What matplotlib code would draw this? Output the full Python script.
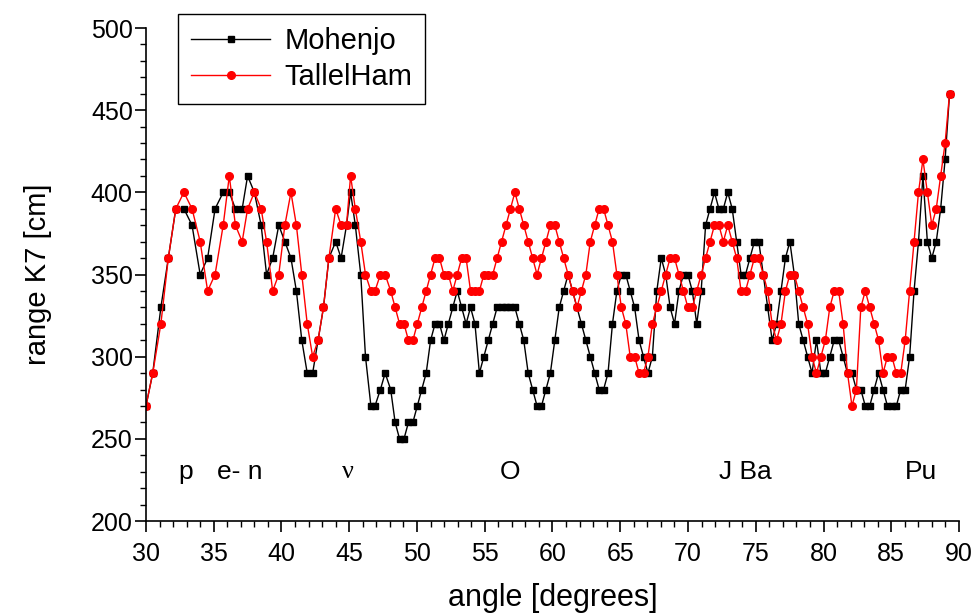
import numpy as np
import matplotlib.pyplot as plt
from matplotlib.ticker import MultipleLocator

plt.rcParams['font.family'] = ['Liberation Sans', 'DejaVu Sans']

# angles: the first readings are spaced wider, then a regular grid up to 89.3
angle_start = [30.0, 30.5, 31.1, 31.65, 32.2, 32.8, 33.4, 34.0, 34.55, 35.1,
               35.7, 36.15, 36.6, 37.1, 37.5, 38.0, 38.5, 38.9, 39.35, 39.8,
               40.25, 40.7, 41.1, 41.5, 41.9, 42.3, 42.7, 43.1, 43.5, 44.0,
               44.4, 44.8, 45.1, 45.45, 45.85, 46.2, 46.6, 46.9, 47.3, 47.65]
angle_grid = np.linspace(48.06, 89.3, 127)
angle = np.concatenate([angle_start, angle_grid])

mohenjo = [
    270, 290, 330, 360, 390, 390, 380, 350, 360, 390,
    400, 400, 390, 390, 410, 400, 380, 350, 360, 380,
    370, 360, 340, 310, 290, 290, 310, 330, 360, 370,
    360, 380, 400, 380, 350, 300, 270, 270, 280, 290,
    280, 260, 250, 250, 260, 260, 270, 280, 290, 310,
    320, 320, 310, 320, 330, 340, 330, 320, 330, 320,
    290, 300, 310, 320, 330, 330, 330, 330, 330, 320,
    310, 290, 280, 270, 270, 280, 290, 310, 330, 340,
    350, 340, 330, 320, 310, 300, 290, 280, 280, 290,
    320, 340, 350, 350, 340, 330, 310, 300, 290, 300,
    340, 360, 350, 330, 320, 340, 350, 350, 340, 320,
    340, 380, 390, 400, 390, 390, 400, 390, 370, 350,
    350, 360, 370, 370, 350, 330, 310, 320, 340, 360,
    370, 350, 320, 310, 300, 290, 310, 290, 290, 300,
    310, 310, 300, 290, 290, 280, 280, 270, 270, 280,
    290, 280, 270, 270, 270, 280, 280, 300, 340, 370,
    410, 370, 360, 370, 390, 420, 460,
]

tallelham = [
    270, 290, 320, 360, 390, 400, 390, 370, 340, 350,
    380, 410, 380, 370, 390, 400, 390, 370, 340, 350,
    380, 400, 380, 350, 320, 300, 310, 330, 360, 390,
    380, 380, 410, 390, 370, 350, 340, 340, 350, 350,
    340, 330, 320, 320, 310, 310, 320, 330, 340, 350,
    360, 360, 350, 350, 340, 350, 360, 360, 340, 340,
    340, 350, 350, 350, 360, 370, 380, 390, 400, 390,
    380, 370, 360, 350, 360, 370, 380, 380, 370, 360,
    350, 340, 330, 340, 350, 370, 380, 390, 390, 380,
    370, 350, 330, 320, 300, 300, 290, 290, 300, 320,
    330, 340, 350, 360, 360, 350, 340, 330, 330, 340,
    350, 360, 370, 380, 380, 370, 380, 370, 360, 340,
    340, 350, 360, 360, 350, 340, 320, 310, 320, 340,
    350, 350, 340, 330, 320, 300, 290, 300, 310, 330,
    340, 340, 320, 290, 270, 280, 330, 340, 330, 320,
    310, 290, 300, 300, 290, 290, 310, 340, 370, 400,
    420, 400, 380, 390, 410, 430, 460,
]

labels = ["p", "e- n", "\u03bd", "O", "J Ba", "Pu"]
label_x = [32.9, 36.9, 44.9, 56.9, 74.2, 87.2]
label_y = 230

fig = plt.figure(figsize=(9.77, 6.16), dpi=100)
ax = fig.add_axes([0.1494, 0.1542, 0.9816 - 0.1494, 0.9545 - 0.1542])

ax.plot(angle, mohenjo, color='black', linewidth=1.0, marker='s',
        markersize=5, label='Mohenjo')
ax.plot(angle, tallelham, color='red', linewidth=1.0, marker='o',
        markersize=5.5, label='TallelHam')

for txt, lx in zip(labels, label_x):
    fam = ['Liberation Serif'] if txt == "\u03bd" else ['Liberation Sans']
    ax.text(lx, label_y, txt, fontsize=19, ha='center', va='center', family=fam)

ax.set_xlim(30, 90)
ax.set_ylim(200, 500)
ax.xaxis.set_major_locator(MultipleLocator(5))
ax.xaxis.set_minor_locator(MultipleLocator(1))
ax.yaxis.set_major_locator(MultipleLocator(50))
ax.yaxis.set_minor_locator(MultipleLocator(10))
ax.tick_params(which='major', direction='out', length=8, width=1.2, labelsize=18)
ax.tick_params(which='minor', direction='out', length=4.5, width=1.0)
ax.tick_params(axis='x', which='major', pad=7)
ax.tick_params(axis='y', which='major', pad=1.5)
ax.spines['top'].set_visible(False)
ax.spines['right'].set_visible(False)
ax.spines['left'].set_linewidth(1.2)
ax.spines['bottom'].set_linewidth(1.2)

ax.set_xlabel('angle [degrees]', fontsize=22, labelpad=12)
ax.set_ylabel('range K7 [cm]', fontsize=21, labelpad=28)

leg = ax.legend(loc='upper left', bbox_to_anchor=(178 / 977, 1 - 14 / 616),
                bbox_transform=fig.transFigure, fontsize=21, frameon=True,
                fancybox=False, framealpha=1, edgecolor='black',
                handlelength=2.7, handletextpad=0.5, borderpad=0.45,
                labelspacing=0.28, borderaxespad=0)
leg.get_frame().set_linewidth(1.0)

fig.savefig('out.png', dpi=100)
